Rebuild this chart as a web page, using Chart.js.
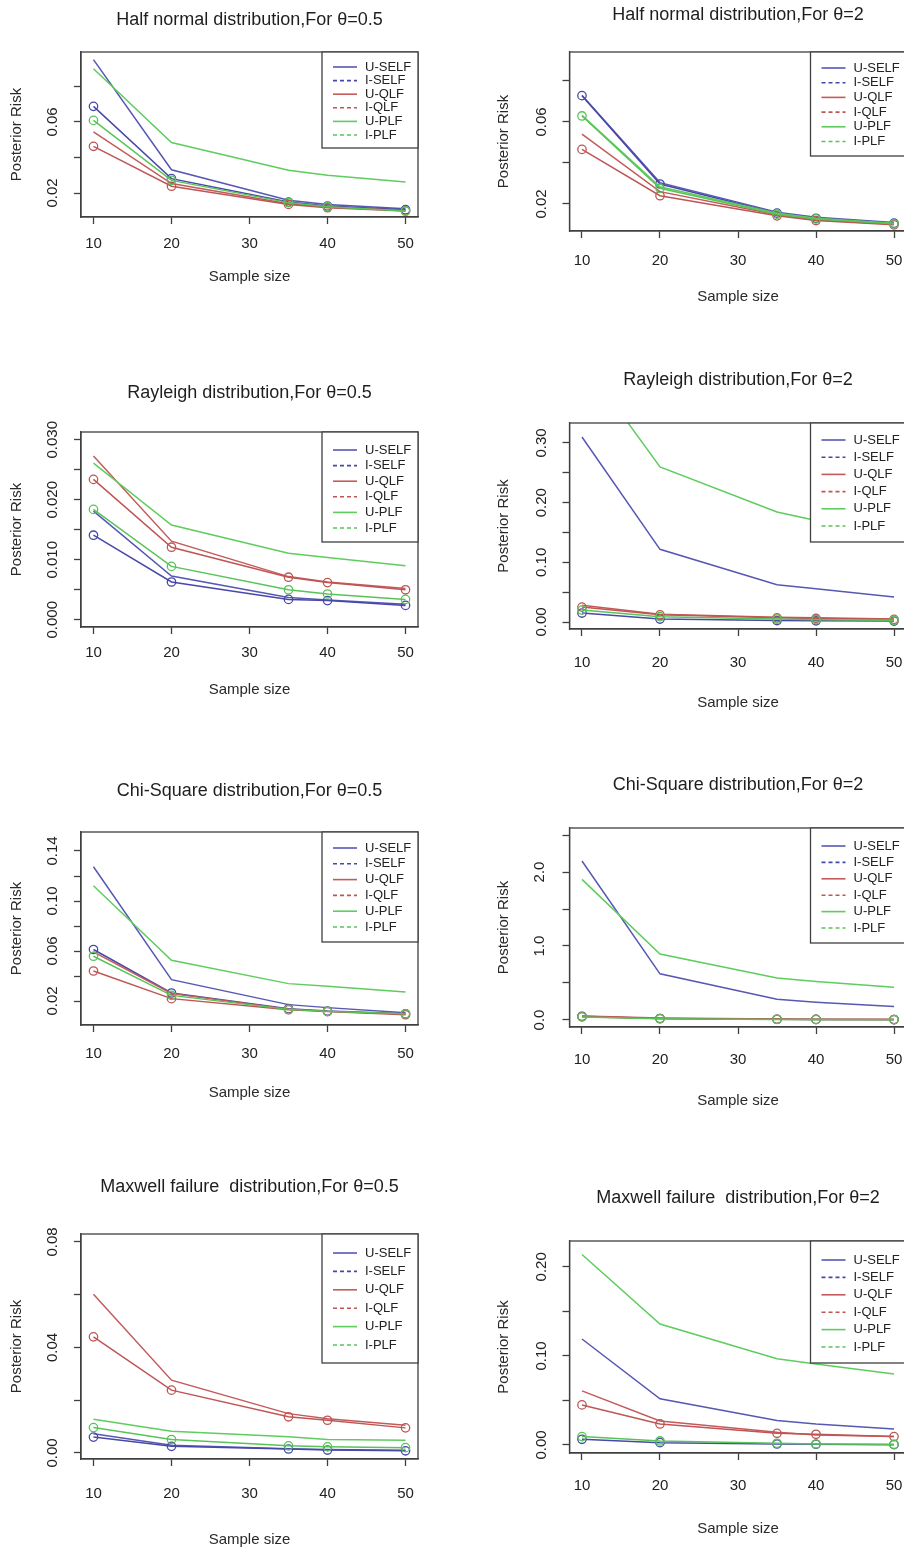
<!DOCTYPE html>
<html>
<head>
<meta charset="utf-8">
<script src="https://cdn.jsdelivr.net/npm/chart.js@4.4.1/dist/chart.umd.min.js"></script>
<style>
html, body { margin: 0; padding: 0; background: #ffffff; overflow: hidden; width: 904px; height: 1552px; }
canvas { position: absolute; }
</style>
</head>
<body>
<script>
// ---------- data ----------
const sampleSizes = [10, 20, 35, 40, 50];
const xTickValues = [10, 20, 30, 40, 50];
const seriesNames = ['U-SELF', 'I-SELF', 'U-QLF', 'I-QLF', 'U-PLF', 'I-PLF'];

const panelTitles = [
  'Half normal distribution,For θ=0.5',
  'Half normal distribution,For θ=2',
  'Rayleigh distribution,For θ=0.5',
  'Rayleigh distribution,For θ=2',
  'Chi-Square distribution,For θ=0.5',
  'Chi-Square distribution,For θ=2',
  'Maxwell failure  distribution,For θ=0.5',
  'Maxwell failure  distribution,For θ=2'
];
const xAxisTitle = 'Sample size';
const yAxisTitle = 'Posterior Risk';

// series order: U-SELF, I-SELF, U-QLF, I-QLF, U-PLF, I-PLF
const halfNormal_t05 = [
  [0.0951, 0.0331, 0.0159, 0.0136, 0.0112],
  [0.0688, 0.0281, 0.0149, 0.0127, 0.0106],
  [0.0544, 0.0253, 0.0140, 0.0121, 0.0102],
  [0.0463, 0.0238, 0.0136, 0.0117, 0.0099],
  [0.0900, 0.0484, 0.0328, 0.0300, 0.0262],
  [0.0609, 0.0271, 0.0146, 0.0123, 0.0099]
];
const halfNormal_t2 = [
  [0.0730, 0.0304, 0.0160, 0.0135, 0.0109],
  [0.0728, 0.0297, 0.0155, 0.0130, 0.0106],
  [0.0540, 0.0260, 0.0147, 0.0122, 0.0101],
  [0.0466, 0.0240, 0.0142, 0.0119, 0.0098],
  [0.0632, 0.0284, 0.0155, 0.0130, 0.0106],
  [0.0629, 0.0276, 0.0150, 0.0127, 0.0103]
];
const rayleigh_t05 = [
  [0.0181, 0.0073, 0.0037, 0.0033, 0.0026],
  [0.0141, 0.0063, 0.0034, 0.0032, 0.0024],
  [0.0273, 0.0131, 0.0072, 0.0063, 0.0052],
  [0.0234, 0.0121, 0.0071, 0.0062, 0.0050],
  [0.0261, 0.0158, 0.0111, 0.0104, 0.0090],
  [0.0184, 0.0089, 0.0050, 0.0043, 0.0034]
];
const rayleigh_t2 = [
  [0.310, 0.1218, 0.0626, 0.0559, 0.042],
  [0.015, 0.005, 0.0025, 0.002, 0.0015],
  [0.028, 0.013, 0.008, 0.007, 0.005],
  [0.025, 0.012, 0.007, 0.006, 0.0045],
  [0.440, 0.260, 0.1844, 0.170, 0.155],
  [0.020, 0.009, 0.005, 0.004, 0.003]
];
const chiSquare_t05 = [
  [0.1274, 0.0371, 0.0171, 0.0147, 0.0106],
  [0.0612, 0.0264, 0.0139, 0.0120, 0.0098],
  [0.0593, 0.0260, 0.0135, 0.0117, 0.0095],
  [0.0440, 0.0219, 0.0130, 0.0115, 0.0090],
  [0.1122, 0.0526, 0.0339, 0.0318, 0.0272],
  [0.0558, 0.0245, 0.0133, 0.0117, 0.0098]
];
const chiSquare_t2 = [
  [2.149, 0.624, 0.280, 0.240, 0.181],
  [0.050, 0.020, 0.010, 0.008, 0.006],
  [0.055, 0.025, 0.012, 0.010, 0.008],
  [0.045, 0.020, 0.010, 0.008, 0.006],
  [1.900, 0.891, 0.566, 0.520, 0.443],
  [0.040, 0.015, 0.008, 0.006, 0.004]
];
const maxwell_t05 = [
  [0.0073, 0.0029, 0.0016, 0.0013, 0.0010],
  [0.0060, 0.0025, 0.0015, 0.0011, 0.0008],
  [0.0602, 0.0276, 0.0149, 0.0130, 0.0105],
  [0.0440, 0.0238, 0.0137, 0.0124, 0.0095],
  [0.0128, 0.0082, 0.0061, 0.0051, 0.0048],
  [0.0096, 0.0051, 0.0027, 0.0023, 0.0020]
];
const maxwell_t2 = [
  [0.1190, 0.0518, 0.0274, 0.0236, 0.0180],
  [0.0064, 0.0026, 0.0011, 0.0008, 0.0004],
  [0.0608, 0.0270, 0.0143, 0.0113, 0.0094],
  [0.0450, 0.0236, 0.0131, 0.0120, 0.0094],
  [0.2139, 0.1358, 0.0968, 0.0908, 0.0796],
  [0.0094, 0.0045, 0.0019, 0.0011, 0.0008]
];
const panelData = [halfNormal_t05, halfNormal_t2, rayleigh_t05, rayleigh_t2,
                   chiSquare_t05, chiSquare_t2, maxwell_t05, maxwell_t2];

// y tick values and their labels (empty = unlabeled tick)
const yTicks_hn05 = [0.02, 0.04, 0.06, 0.08];
const yLabels_hn05 = ['0.02', '', '0.06', ''];
const yTicks_hn2 = [0.02, 0.04, 0.06, 0.08];
const yLabels_hn2 = ['0.02', '', '0.06', ''];
const yTicks_ry05 = [0, 0.005, 0.010, 0.015, 0.020, 0.025, 0.030];
const yLabels_ry05 = ['0.000', '', '0.010', '', '0.020', '', '0.030'];
const yTicks_ry2 = [0, 0.05, 0.10, 0.15, 0.20, 0.25, 0.30];
const yLabels_ry2 = ['0.00', '', '0.10', '', '0.20', '', '0.30'];
const yTicks_cs05 = [0.02, 0.04, 0.06, 0.08, 0.10, 0.12, 0.14];
const yLabels_cs05 = ['0.02', '', '0.06', '', '0.10', '', '0.14'];
const yTicks_cs2 = [0, 0.5, 1.0, 1.5, 2.0, 2.5];
const yLabels_cs2 = ['0.0', '', '1.0', '', '2.0', ''];
const yTicks_mx05 = [0, 0.02, 0.04, 0.06, 0.08];
const yLabels_mx05 = ['0.00', '', '0.04', '', '0.08'];
const yTicks_mx2 = [0, 0.05, 0.10, 0.15, 0.20];
const yLabels_mx2 = ['0.00', '', '0.10', '', '0.20'];
const yTickSets = [yTicks_hn05, yTicks_hn2, yTicks_ry05, yTicks_ry2, yTicks_cs05, yTicks_cs2, yTicks_mx05, yTicks_mx2];
const yLabelSets = [yLabels_hn05, yLabels_hn2, yLabels_ry05, yLabels_ry2, yLabels_cs05, yLabels_cs2, yLabels_mx05, yLabels_mx2];

// axis ranges
const xAxisMin = 8.4, xAxisMax = 51.6;
const yAxisMin = [0.0065, 0.0068, -0.0012, -0.0117, 0.0008, -0.095, -0.0023, -0.009];
const yAxisMax = [0.0994, 0.0941, 0.0313, 0.3335, 0.1552, 2.595, 0.0830, 0.229];

// ---------- styles & layout ----------
const FONT = "'Liberation Sans', Arial, Helvetica, sans-serif";
const seriesColors = ['#5757b4', '#4848a8', '#c45a5a', '#bf5555', '#5ecd5e', '#58c458'];
const seriesMarkers = [false, true, false, true, false, true];
const legendDashes = [[], [4, 3], [], [4, 3], [], [4, 3]];

// panel geometry (page pixels)
const geom = [
  {x: 0,   y: 0,    w: 452, h: 330, L: 81,    R: 418,   T: 52,   B: 217,  titleY: 20,   tickY: 244,  xlabY: 277,  ylabX: 17,  ytickX: 53,  row1: 15, gap: 13.6, legH: 96},
  {x: 452, y: 0,    w: 480, h: 330, L: 569.5, R: 906.5, T: 52,   B: 231,  titleY: 15,   tickY: 261,  xlabY: 297,  ylabX: 504, ytickX: 542, row1: 16, gap: 14.7, legH: 104},
  {x: 0,   y: 360,  w: 452, h: 360, L: 81,    R: 418,   T: 432,  B: 627,  titleY: 393,  tickY: 653,  xlabY: 690,  ylabX: 17,  ytickX: 53,  row1: 18, gap: 15.6, legH: 110},
  {x: 452, y: 360,  w: 480, h: 360, L: 569.5, R: 906.5, T: 423,  B: 629,  titleY: 380,  tickY: 663,  xlabY: 703,  ylabX: 504, ytickX: 542, row1: 17, gap: 17.2, legH: 119},
  {x: 0,   y: 760,  w: 452, h: 360, L: 81,    R: 418,   T: 832,  B: 1025, titleY: 791,  tickY: 1054, xlabY: 1093, ylabX: 17,  ytickX: 53,  row1: 16, gap: 15.8, legH: 110},
  {x: 452, y: 760,  w: 480, h: 360, L: 569.5, R: 906.5, T: 828,  B: 1027, titleY: 785,  tickY: 1060, xlabY: 1101, ylabX: 504, ytickX: 540, row1: 18, gap: 16.4, legH: 115},
  {x: 0,   y: 1150, w: 452, h: 402, L: 81,    R: 418,   T: 1234, B: 1459, titleY: 1187, tickY: 1494, xlabY: 1540, ylabX: 17,  ytickX: 53,  row1: 19, gap: 18.4, legH: 129},
  {x: 452, y: 1150, w: 480, h: 402, L: 569.5, R: 906.5, T: 1241, B: 1453, titleY: 1198, tickY: 1486, xlabY: 1529, ylabX: 504, ytickX: 542, row1: 19, gap: 17.4, legH: 122}
];

const frameLegend = {
  id: 'frameLegend',
  afterDraw(chart, args, opts) {
    const ctx = chart.ctx, a = chart.chartArea;
    ctx.save();
    ctx.strokeStyle = '#404040';
    ctx.lineWidth = 1.3;
    ctx.setLineDash([]);
    ctx.strokeRect(a.left, a.top, a.right - a.left, a.bottom - a.top);
    const lx = a.right - 96, ly = a.top;
    ctx.fillStyle = '#ffffff';
    ctx.fillRect(lx, ly, a.right - lx, opts.legH);
    ctx.strokeRect(lx, ly, a.right - lx, opts.legH);
    chart.data.datasets.forEach((ds, k) => {
      const yy = ly + opts.row1 + k * opts.gap;
      ctx.strokeStyle = ds.borderColor;
      ctx.lineWidth = 1.6;
      ctx.setLineDash(ds.legendDash);
      ctx.beginPath();
      ctx.moveTo(lx + 11, yy);
      ctx.lineTo(lx + 35, yy);
      ctx.stroke();
      ctx.setLineDash([]);
      ctx.fillStyle = '#222222';
      ctx.font = '13px ' + FONT;
      ctx.textAlign = 'left';
      ctx.textBaseline = 'middle';
      ctx.fillText(ds.label, lx + 43, yy);
    });
    ctx.restore();
  }
};

const measureCtx = document.createElement('canvas').getContext('2d');
measureCtx.font = '15px ' + FONT;

function makePanel(i) {
  const g = geom[i];
  const cv = document.createElement('canvas');
  cv.width = g.w; cv.height = g.h;
  cv.style.left = g.x + 'px'; cv.style.top = g.y + 'px';
  cv.style.width = g.w + 'px'; cv.style.height = g.h + 'px';
  document.body.appendChild(cv);

  const wY = g.L - g.x;
  const hX = g.xlabY - g.B + 9;
  const padBottom = g.h - (g.B - g.y) - hX;
  const padRight = g.x + g.w - g.R;
  const widest = Math.max(...yLabelSets[i].map(s => measureCtx.measureText(s).width));
  const yTickPad = wY - 7 - (g.ytickX - g.x) - widest / 2;

  const datasets = seriesNames.map((name, k) => ({
    label: name,
    data: sampleSizes.map((xv, j) => ({x: xv, y: panelData[i][k][j]})),
    borderColor: seriesColors[k],
    borderWidth: 1.5,
    pointRadius: seriesMarkers[k] ? 4.2 : 0,
    pointHoverRadius: 0,
    pointBorderColor: seriesColors[k],
    pointBackgroundColor: 'rgba(0,0,0,0)',
    pointBorderWidth: 1.3,
    fill: false,
    tension: 0,
    legendDash: legendDashes[k],
    order: seriesNames.length - k
  }));

  const axisFont = {family: FONT, size: 15};
  new Chart(cv, {
    type: 'line',
    data: {datasets},
    options: {
      responsive: false,
      animation: false,
      devicePixelRatio: 1,
      layout: {padding: {left: 0, top: 0, right: padRight, bottom: padBottom}},
      plugins: {
        legend: {display: false},
        tooltip: {enabled: false},
        title: {
          display: true, text: panelTitles[i], fullSize: false, color: '#1e1e1e',
          font: {family: FONT, size: 18, weight: 'normal'},
          padding: {top: g.titleY - g.y - 10.8, bottom: g.T - g.titleY - 10.8}
        },
        frameLegend: {row1: g.row1, gap: g.gap, legH: g.legH}
      },
      scales: {
        x: {
          type: 'linear', min: xAxisMin, max: xAxisMax,
          afterBuildTicks: s => { s.ticks = xTickValues.map(v => ({value: v})); },
          afterFit: s => { s.height = hX; },
          grid: {drawOnChartArea: false, drawTicks: true, tickLength: 7, color: '#404040', tickColor: '#404040', tickWidth: 1.3},
          border: {display: true, color: '#404040', width: 1.3},
          ticks: {padding: g.tickY - g.B - 16, color: '#222222', font: axisFont, autoSkip: false, maxRotation: 0, minRotation: 0,
                  callback: (v, idx) => String(xTickValues[idx])},
          title: {display: true, text: xAxisTitle, color: '#2a2a2a', font: axisFont, padding: {top: 0, bottom: 0}}
        },
        y: {
          type: 'linear', min: yAxisMin[i], max: yAxisMax[i],
          afterBuildTicks: s => { s.ticks = yTickSets[i].map(v => ({value: v})); },
          afterFit: s => { s.width = wY; },
          grid: {drawOnChartArea: false, drawTicks: true, tickLength: 7, color: '#404040', tickColor: '#404040', tickWidth: 1.3},
          border: {display: true, color: '#404040', width: 1.3},
          ticks: {padding: yTickPad, crossAlign: 'center', minRotation: 90, maxRotation: 90, autoSkip: false,
                  color: '#222222', font: axisFont, callback: (v, idx) => yLabelSets[i][idx]},
          title: {display: true, text: yAxisTitle, color: '#2a2a2a', font: axisFont, padding: {top: g.ylabX - g.x - 9, bottom: 0}}
        }
      }
    },
    plugins: [frameLegend]
  });
}

for (let i = 0; i < 8; i++) makePanel(i);
</script>
</body>
</html>
